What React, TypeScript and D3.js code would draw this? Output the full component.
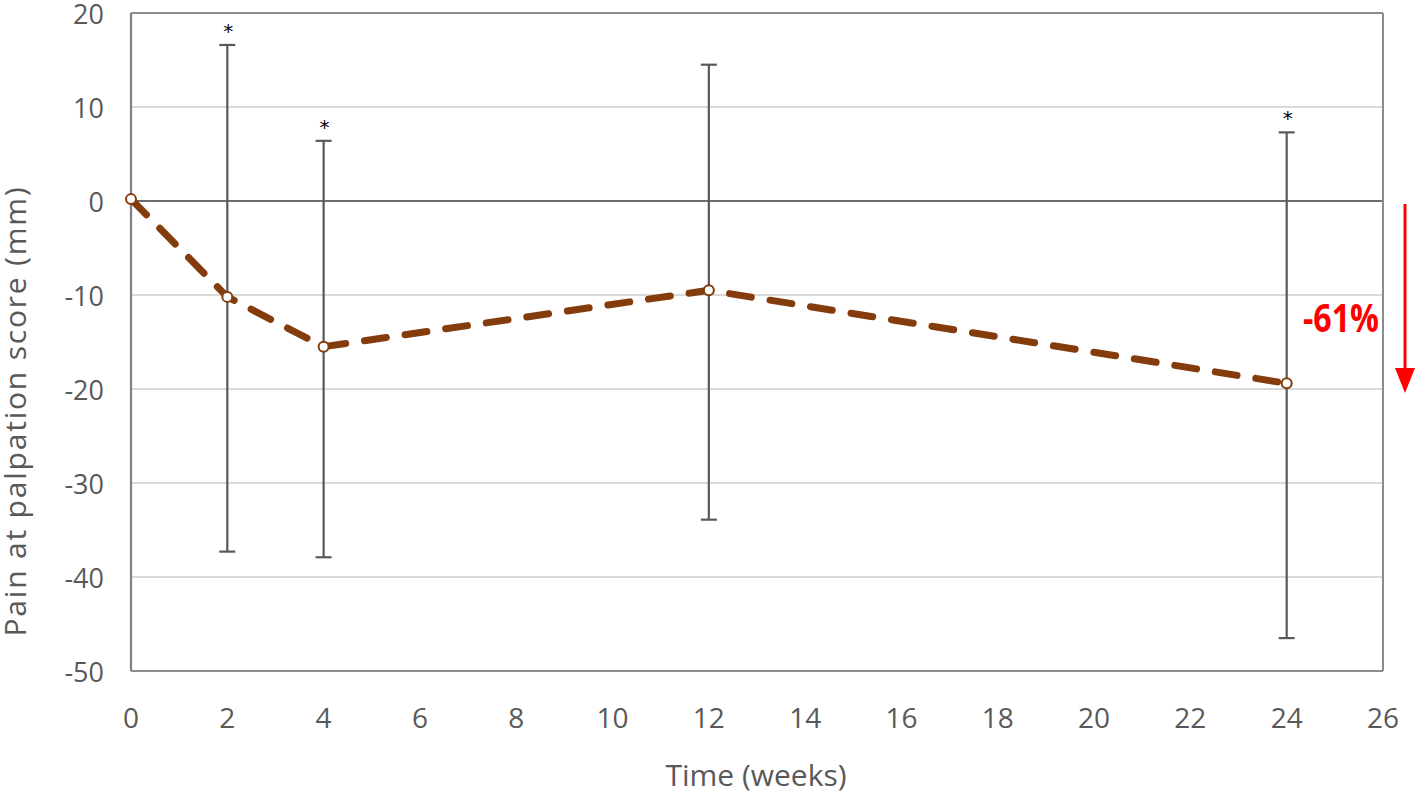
import React from "react";
import * as d3 from "d3";

const weeks = [0, 2, 4, 12, 24];
const means = [0.2, -10.2, -15.5, -9.5, -19.4];
const errTop = [null, 16.6, 6.4, 14.5, 7.3];
const errBottom = [null, -37.3, -37.9, -33.9, -46.5];
const significant = [false, true, true, false, true];
const xTicks = [0, 2, 4, 6, 8, 10, 12, 14, 16, 18, 20, 22, 24, 26];
const yTicks = [20, 10, 0, -10, -20, -30, -40, -50];
const changeLabel = "-61%";

const W = 1418;
const H = 797;
const M = { left: 131, right: 1383, top: 13, bottom: 671 };

export default function App() {
  const x = d3.scaleLinear().domain([0, 26]).range([M.left, M.right]);
  const y = d3.scaleLinear().domain([-50, 20]).range([M.bottom, M.top]);
  const pts = weeks.map((w, i) => [x(w), y(means[i])] as [number, number]);
  const line = d3.line()(pts) || "";
  const font = "'Open Sans', 'Noto Sans', sans-serif";
  const grey = "#595959";

  return (
    <svg width={W} height={H} style={{ position: "absolute", left: 0, top: 0, background: "#fff" }}>
      {/* gridlines */}
      {yTicks.map((t) => (
        <line
          key={"g" + t}
          x1={M.left}
          x2={M.right}
          y1={y(t)}
          y2={y(t)}
          stroke={t === 0 ? "#6e6e6e" : t === 20 || t === -50 ? "#8c8c8c" : "#d9d9d9"}
          strokeWidth={t === 0 ? 2.2 : 2}
        />
      ))}
      {/* frame */}
      <line x1={M.left} x2={M.left} y1={M.top} y2={M.bottom} stroke="#7f7f7f" strokeWidth={2.2} />
      <line x1={M.right} x2={M.right} y1={M.top} y2={M.bottom} stroke="#8c8c8c" strokeWidth={2} />
      {/* y tick labels */}
      {yTicks.map((t) => (
        <text key={"y" + t} x={104} y={y(t) + 2} dy="0.35em" textAnchor="end" fontFamily={font} fontSize={27} fill={grey}>
          {t}
        </text>
      ))}
      {/* x tick labels */}
      {xTicks.map((t) => (
        <text key={"x" + t} x={x(t)} y={718} dy="0.35em" textAnchor="middle" fontFamily={font} fontSize={28} fill={grey}>
          {t}
        </text>
      ))}
      {/* axis titles */}
      <text x={756} y={775} dy="0.35em" textAnchor="middle" fontFamily={font} fontSize={30} fill={grey}>
        Time (weeks)
      </text>
      <text
        transform={`translate(26, 411) rotate(-90)`}
        textAnchor="middle"
        fontFamily={font}
        fontSize={30}
        letterSpacing={1.8}
        fill={grey}
      >
        Pain at palpation score (mm)
      </text>
      {/* error bars */}
      {weeks.map((w, i) => {
        const t = errTop[i];
        const b = errBottom[i];
        if (t === null || b === null) return null;
        const cx = x(w);
        return (
          <g key={"e" + w} stroke={grey} strokeWidth={2.2}>
            <line x1={cx} x2={cx} y1={y(t)} y2={y(b)} />
            <line x1={cx - 8} x2={cx + 8} y1={y(t)} y2={y(t)} />
            <line x1={cx - 8} x2={cx + 8} y1={y(b)} y2={y(b)} />
          </g>
        );
      })}
      {/* asterisks */}
      {weeks.map((w, i) =>
        significant[i] && errTop[i] !== null ? (
          <text key={"s" + w} x={x(w) + 1} y={y(errTop[i] as number) - 7} textAnchor="middle" fontFamily="'DejaVu Sans', sans-serif" fontSize={20} fill="#000">
            *
          </text>
        ) : null
      )}
      {/* dashed mean line */}
      <path d={line} fill="none" stroke="#843C0C" strokeWidth={7} strokeDasharray="22 19" strokeLinecap="round" strokeLinejoin="round" />
      {pts.map((p, i) => (
        <circle key={"c" + i} cx={p[0]} cy={p[1]} r={5} fill="#fff" stroke="#843C0C" strokeWidth={2} />
      ))}
      {/* change annotation */}
      <line x1={1405} x2={1405} y1={204} y2={370} stroke="#ff0000" strokeWidth={3} />
      <path d="M1395,368 L1415,368 L1405,393 Z" fill="#ff0000" />
      <text
        x={1303}
        y={332}
        fontFamily={font}
        fontWeight="bold"
        fontSize={40}
        textLength={76}
        lengthAdjust="spacingAndGlyphs"
        fill="#ff0000"
      >
        {changeLabel}
      </text>
    </svg>
  );
}
